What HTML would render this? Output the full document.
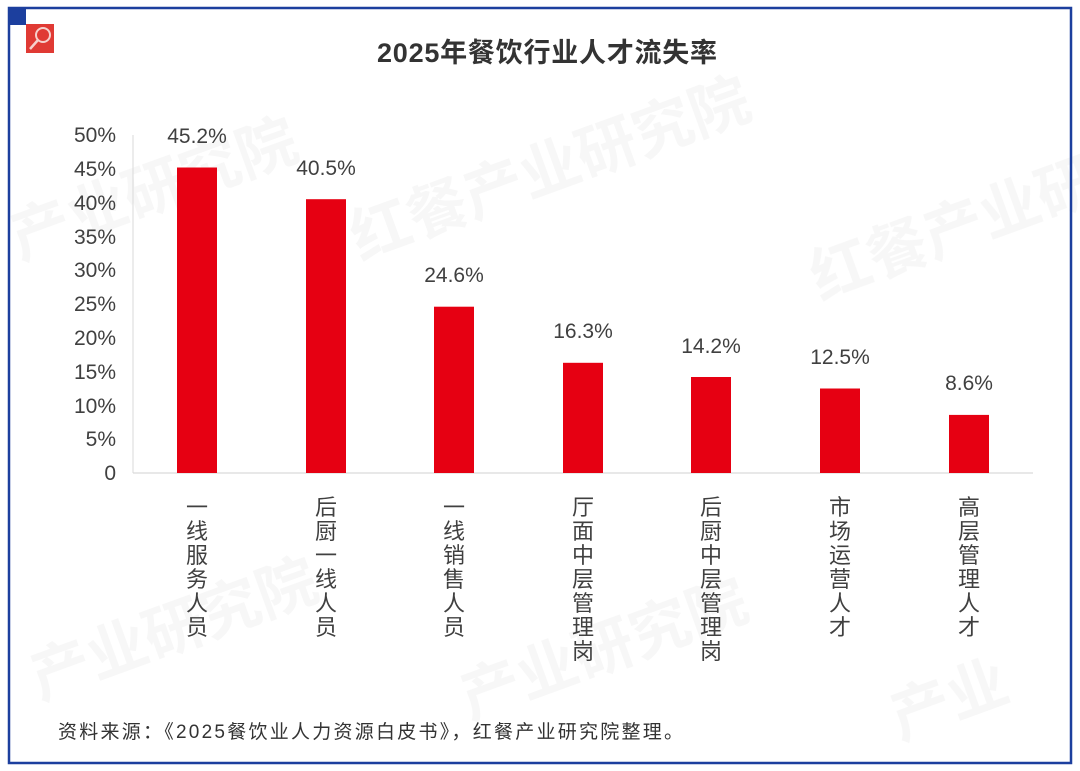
<!DOCTYPE html>
<html><head><meta charset="utf-8"><style>
html,body{margin:0;padding:0;background:#fff;}
svg{display:block;}
text{font-family:"Liberation Sans","Noto Sans CJK SC",sans-serif;}
</style></head><body>
<svg width="1080" height="771" viewBox="0 0 1080 771" xmlns="http://www.w3.org/2000/svg">
<rect width="1080" height="771" fill="#fff"/>
<g fill="#000" opacity="0.035" font-size="60" font-weight="bold">
<text transform="translate(20,260) rotate(-20)">产业研究院</text>
<text transform="translate(360,260) rotate(-20)">红餐产业研究院</text>
<text transform="translate(820,300) rotate(-20)">红餐产业研究院</text>
<text transform="translate(40,700) rotate(-20)">产业研究院</text>
<text transform="translate(470,720) rotate(-20)">产业研究院</text>
<text transform="translate(900,740) rotate(-20)">产业</text>
</g>
<rect x="9" y="8" width="1062" height="755" fill="none" stroke="#1c3f9e" stroke-width="2.5"/>
<rect x="9" y="8" width="17" height="17" fill="#1c3f9e"/>
<rect x="26" y="24" width="28" height="29" fill="#e03a34"/>
<circle cx="43" cy="35" r="7" fill="none" stroke="#f6d0cc" stroke-width="2"/>
<line x1="38" y1="40" x2="30" y2="49" stroke="#f6d0cc" stroke-width="2.5"/>
<text x="377" y="62" font-size="27" font-weight="bold" fill="#333" textLength="340" lengthAdjust="spacing">2025年餐饮行业人才流失率</text>
<line x1="133" y1="135" x2="133" y2="473" stroke="#d9d9d9" stroke-width="1"/>
<line x1="133" y1="473" x2="1033" y2="473" stroke="#d9d9d9" stroke-width="1.2"/>
<g font-size="21" fill="#404040" text-anchor="end">
<text x="116" y="142">50%</text>
<text x="116" y="176">45%</text>
<text x="116" y="210">40%</text>
<text x="116" y="244">35%</text>
<text x="116" y="277">30%</text>
<text x="116" y="311">25%</text>
<text x="116" y="345">20%</text>
<text x="116" y="379">15%</text>
<text x="116" y="413">10%</text>
<text x="116" y="446">5%</text>
<text x="116" y="480">0</text>
</g>
<g fill="#e60012">
<rect x="177" y="167.5" width="40" height="305.5"/>
<rect x="306" y="199.2" width="40" height="273.8"/>
<rect x="434" y="306.7" width="40" height="166.3"/>
<rect x="563" y="362.8" width="40" height="110.2"/>
<rect x="691" y="377" width="40" height="96"/>
<rect x="820" y="388.5" width="40" height="84.5"/>
<rect x="949" y="414.9" width="40" height="58.1"/>
</g>
<g font-size="21" fill="#404040" text-anchor="middle">
<text x="197" y="143">45.2%</text>
<text x="326" y="175">40.5%</text>
<text x="454" y="282">24.6%</text>
<text x="583" y="338">16.3%</text>
<text x="711" y="353">14.2%</text>
<text x="840" y="364">12.5%</text>
<text x="969" y="390">8.6%</text>
</g>
<g font-size="22" fill="#404040" text-anchor="middle">
<text><tspan x="197" y="515">一</tspan><tspan x="197" dy="24">线</tspan><tspan x="197" dy="24">服</tspan><tspan x="197" dy="24">务</tspan><tspan x="197" dy="24">人</tspan><tspan x="197" dy="24">员</tspan></text>
<text><tspan x="326" y="515">后</tspan><tspan x="326" dy="24">厨</tspan><tspan x="326" dy="24">一</tspan><tspan x="326" dy="24">线</tspan><tspan x="326" dy="24">人</tspan><tspan x="326" dy="24">员</tspan></text>
<text><tspan x="454" y="515">一</tspan><tspan x="454" dy="24">线</tspan><tspan x="454" dy="24">销</tspan><tspan x="454" dy="24">售</tspan><tspan x="454" dy="24">人</tspan><tspan x="454" dy="24">员</tspan></text>
<text><tspan x="583" y="515">厅</tspan><tspan x="583" dy="24">面</tspan><tspan x="583" dy="24">中</tspan><tspan x="583" dy="24">层</tspan><tspan x="583" dy="24">管</tspan><tspan x="583" dy="24">理</tspan><tspan x="583" dy="24">岗</tspan></text>
<text><tspan x="711" y="515">后</tspan><tspan x="711" dy="24">厨</tspan><tspan x="711" dy="24">中</tspan><tspan x="711" dy="24">层</tspan><tspan x="711" dy="24">管</tspan><tspan x="711" dy="24">理</tspan><tspan x="711" dy="24">岗</tspan></text>
<text><tspan x="840" y="515">市</tspan><tspan x="840" dy="24">场</tspan><tspan x="840" dy="24">运</tspan><tspan x="840" dy="24">营</tspan><tspan x="840" dy="24">人</tspan><tspan x="840" dy="24">才</tspan></text>
<text><tspan x="969" y="515">高</tspan><tspan x="969" dy="24">层</tspan><tspan x="969" dy="24">管</tspan><tspan x="969" dy="24">理</tspan><tspan x="969" dy="24">人</tspan><tspan x="969" dy="24">才</tspan></text>
</g>
<text x="58" y="738" font-size="19" fill="#333" textLength="625" lengthAdjust="spacing">资料来源：《2025餐饮业人力资源白皮书》，红餐产业研究院整理。</text>
</svg>
</body></html>
